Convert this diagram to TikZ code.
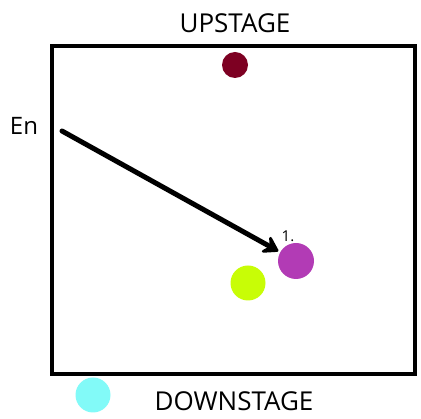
\documentclass[tikz,border=0pt]{standalone}
\usepackage{fontspec}
\setmainfont{Open Sans}
\usetikzlibrary{positioning,arrows.meta}
\definecolor{actorred}{HTML}{7D0022}
\definecolor{actorpurple}{HTML}{B23BB5}
\definecolor{actorlime}{HTML}{C8FD06}
\definecolor{actorcyan}{HTML}{82FAF8}
\tikzset{
  stagebox/.style={draw=black, line width=4pt},
  stagelab/.style={font=\fontsize{26}{30}\selectfont, inner sep=0pt},
  actor/.style={circle, minimum size=#1, inner sep=0pt, draw=none},
  cue/.style={font=\fontsize{15}{17}\selectfont, inner sep=0pt},
  walk/.style={-{Stealth[length=19pt, width=24pt, inset=8pt, round]},
    line width=5pt, line cap=round},
}
\begin{document}
\begin{tikzpicture}[x=1pt, y=-1pt]
\useasboundingbox (0,0) rectangle (421,419);
% stage outline
\draw[stagebox] (52,46) rectangle (415,374);
\node[stagelab] (up) at (235,23) {UPSTAGE};
\node[stagelab] (down) at (234,401) {DOWNSTAGE};
\node[stagelab, font=\fontsize{24}{28}\selectfont] (en) at (24,126) {En};
% actors
\node[actor=26pt, fill=actorred] (red) at (235,65) {};
\node[actor=36pt, fill=actorpurple] (purple) at (296,261) {};
\node[actor=35pt, fill=actorlime] (lime) at (248,283) {};
\node[actor=35pt, fill=actorcyan] (cyan) at (93,395) {};
\node[cue] (first) at (288,236) {1.};
% entrance path
\coordinate (entry) at (62,131);
\draw[walk, shorten >=2pt] (entry) -- (purple);
\end{tikzpicture}
\end{document}
